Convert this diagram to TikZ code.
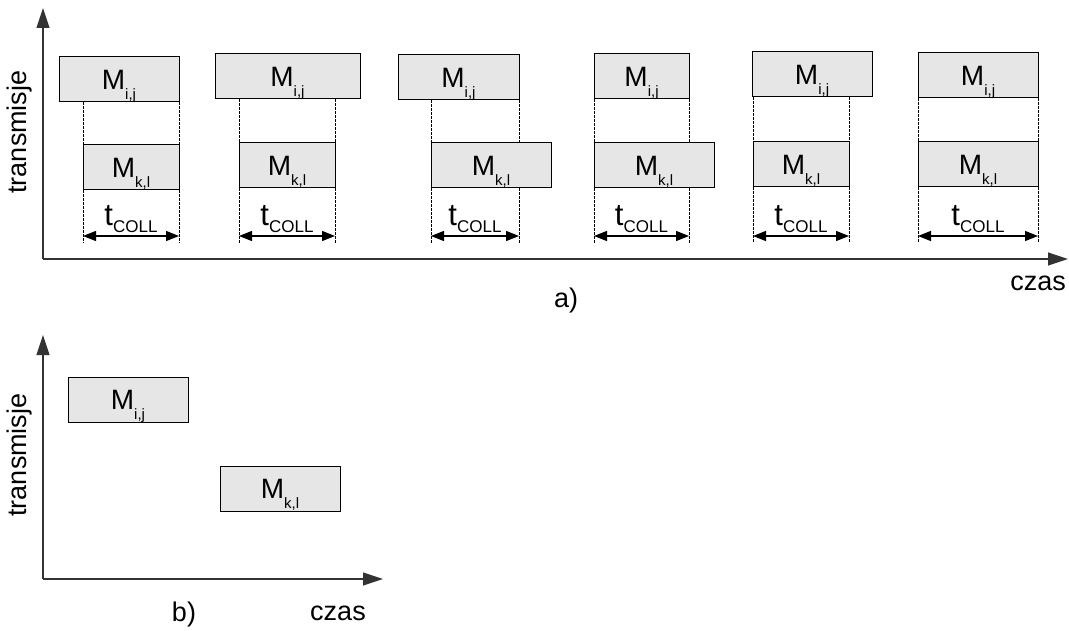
\documentclass[tikz,border=0pt]{standalone}
\usepackage{fontspec}
\setmainfont{Liberation Sans}
\usetikzlibrary{arrows.meta}

% message label M with a hanging subscript
\newcommand\msgtxt[1]{{\fontsize{28}{28}\selectfont M}\smash{\raisebox{-10pt}{\fontsize{15}{15}\selectfont #1}}}
% collision time label
\newcommand\tcoll{{\fontsize{31}{31}\selectfont t}\raisebox{-7pt}{\fontsize{17}{17}\selectfont COLL}}

\definecolor{boxfill}{HTML}{E6E6E6}
\definecolor{axisc}{HTML}{333333}

\tikzset{
  msg/.style={draw=black, line width=1pt, fill=boxfill, inner sep=0pt, minimum height=45pt},
  axis/.style={draw=axisc, line width=1.2pt, -{Triangle[length=20pt,width=13pt]}},
  guide/.style={draw=black, line width=0.7pt, dash pattern=on 2.5pt off 1.5pt},
  span/.style={draw=black, line width=1.2pt, {Triangle[length=13pt,width=10pt]}-{Triangle[length=13pt,width=10pt]}},
  lbl/.style={font=\fontsize{27}{27}\selectfont, inner sep=0pt},
}

\begin{document}
\begin{tikzpicture}[x=1pt, y=-1pt]
\useasboundingbox (0,0) rectangle (1069,631);

% ---------- a) ----------
\coordinate (oa) at (43,259);
\coordinate (ya) at (43,8);
\coordinate (xa) at (1068,259);
\draw[axis] (oa) -- (ya);
\draw[axis] (oa) -- (xa);
\node[lbl, rotate=90] (transa) at (20,132) {transmisje};
\node[lbl] (czasa) at (1038,283) {czas};
\node[lbl] (laba) at (566,301) {a)};

% index / top box left,right,top / bottom box left,right,top / right guide
\foreach \i/\tl/\tr/\ty/\bl/\br/\by/\gr in {
  1/59/179/57/83/179/145/179,
  2/215/360/54/239/335/143/335,
  3/398/519/55/431/551/143/519,
  4/594/689/54/594/714/143/689,
  5/752/872/52/753/849/142/849,
  6/918/1038/53/918/1038/142/1038}{
  \pgfmathsetmacro\tcx{(\tl+\tr)/2}
  \pgfmathsetmacro\tcy{\ty+22.5}
  \pgfmathsetmacro\tw{\tr-\tl}
  \pgfmathsetmacro\bcx{(\bl+\br)/2}
  \pgfmathsetmacro\bcy{\by+22.5}
  \pgfmathsetmacro\bw{\br-\bl}
  \pgfmathsetmacro\mid{(\bl+\gr)/2}
  \node[msg, minimum width=\tw pt] (t\i) at (\tcx,\tcy) {\msgtxt{i,j}};
  \node[msg, minimum width=\bw pt] (b\i) at (\bcx,\bcy) {\msgtxt{k,l}};
  \coordinate (gl\i) at (\bl,243);
  \coordinate (gr\i) at (\gr,243);
  \coordinate (al\i) at (\bl,236);
  \coordinate (ar\i) at (\gr,236);
  % guide lines between the two frames and down to the span arrow
  \draw[guide] (t\i.south -| gl\i) -- (b\i.north -| gl\i);
  \draw[guide] (b\i.south -| gl\i) -- (gl\i);
  \draw[guide] (t\i.south -| gr\i) -- (b\i.north -| gr\i);
  \draw[guide] (b\i.south -| gr\i) -- (gr\i);
  \draw[span] (al\i) -- (ar\i);
  \node[inner sep=0pt, anchor=base] (tc\i) at (\mid,226) {\tcoll};
}

% ---------- b) ----------
\coordinate (ob) at (43,579);
\coordinate (yb) at (43,335);
\coordinate (xb) at (383,579);
\draw[axis] (ob) -- (yb);
\draw[axis] (ob) -- (xb);
\node[lbl, rotate=90] (transb) at (20,455) {transmisje};
\node[lbl] (czasb) at (338,613) {czas};
\node[lbl] (labb) at (184,615) {b)};
\node[msg, minimum width=120pt] (mij) at (128,399.5) {\msgtxt{i,j}};
\node[msg, minimum width=120pt] (mkl) at (280,489) {\msgtxt{k,l}};
\end{tikzpicture}
\end{document}
